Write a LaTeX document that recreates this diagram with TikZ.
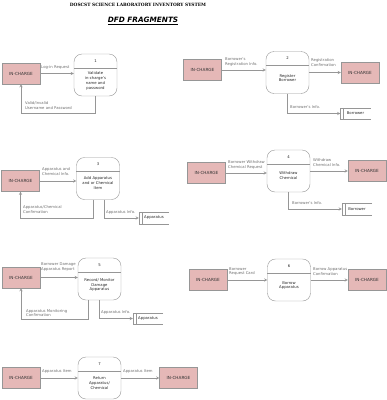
\documentclass[tikz,border=0pt]{standalone}
\usepackage{fontspec}
\setmainfont{DejaVu Sans}
\newfontfamily\titlefont{DejaVu Serif}
\usepackage{tikz,xcolor}
\usetikzlibrary{calc}
\definecolor{entitypink}{RGB}{229,184,183}
\definecolor{linegray}{RGB}{150,150,150}
\definecolor{labelgray}{RGB}{110,110,110}
\tikzset{
  % external entity box
  entity/.style={draw=linegray, fill=entitypink, minimum width=38pt, minimum height=21pt,
    inner sep=0pt, text=black!80, font=\fontsize{4.2}{5}\selectfont},
  % process bubble
  process/.style={draw=linegray, rounded corners=8pt, minimum width=43pt, minimum height=42pt, inner sep=0pt},
  ptext/.style={align=center, inner sep=0pt, text=black!85, font=\fontsize{3.8}{4.8}\selectfont},
  % text beside a flow
  flowlabel/.style={anchor=west, align=left, inner sep=0pt, text=labelgray, font=\fontsize{3.8}{4.6}\selectfont},
  % data store
  datastore/.style={minimum width=30pt, minimum height=11pt, inner sep=0pt, text=black!85, font=\fontsize{3.8}{4.6}\selectfont},
  flow/.style={draw=linegray, line width=0.4pt, ->, >=stealth},
}
\begin{document}
\begin{tikzpicture}[x=1pt,y=-1pt]
\useasboundingbox (0,0) rectangle (387,400);
\node[font=\titlefont\bfseries\fontsize{4.4}{5}\selectfont] (title) at (138,5) {DOSCST SCIENCE LABORATORY INVENTORY SYSTEM};
\node[font=\bfseries\itshape\fontsize{7.3}{8}\selectfont] (subtitle) at (143,21) {\underline{DFD FRAGMENTS}};

% fragment 1
\node[entity] (e1) at (21,73.5) {IN-CHARGE};
\node[process] (p1) at (95.5,75) {};
\node[ptext] (t1) at (95.5,81) {Validate\\in-charge's\\name and\\password};
\coordinate (r1) at (0,113);
\draw[flow] (e1.east) -- (e1.east -| p1.west);
\draw[flow] (p1.south) -- (p1.south |- r1) -- (e1.south |- r1) -- (e1.south);
\node[flowlabel] (l1a) at (41,67) {Log-in Request};
\node[flowlabel] (l1b) at (25,105.5) {Valid/Invalid\\Username and Password};

% fragment 2
\node[entity] (e2a) at (202.5,70) {IN-CHARGE};
\node[process] (p2) at (287.5,72.5) {};
\node[ptext] (t2) at (287.5,78) {Register\\Borrower};
\node[entity] (e2b) at (360,72.5) {IN-CHARGE};
\node[datastore] (s2) at (355.5,113.5) {Borrower};
\draw[flow] (e2a.east) -- (e2a.east -| p2.west);
\draw[flow] (p2.east) -- (p2.east -| e2b.west);
\draw[flow] (p2.south) |- (s2.west);
\node[flowlabel] (l2a) at (225,62) {Borrower's\\Registration Info.};
\node[flowlabel] (l2b) at (311,62.5) {Registration\\Confirmation};
\node[flowlabel] (l2c) at (290,107) {Borrower's Info.};

% fragment 3
\node[entity] (e3) at (20.5,181) {IN-CHARGE};
\node[process] (p3) at (98,178.5) {};
\node[ptext] (t3) at (98,183) {Add Apparatus\\and or Chemical\\Item};
\node[datastore] (s3) at (154,218) {Apparatus};
\coordinate (r3) at (0,218);
\draw[flow] (e3.east) -- (e3.east -| p3.west);
\draw[flow] ([xshift=-5pt]p3.south) -- ([xshift=-5pt]p3.south |- r3) -- (e3.south |- r3) -- (e3.south);
\draw[flow] ([xshift=6pt]p3.south) |- (s3.west);
\node[flowlabel] (l3a) at (42,171.5) {Apparatus and\\Chemical Info.};
\node[flowlabel] (l3b) at (23,209.5) {Apparatus/Chemical\\Confirmation};
\node[flowlabel] (l3c) at (106,212) {Apparatus Info.};

% fragment 4
\node[entity] (e4a) at (206.5,173) {IN-CHARGE};
\node[process] (p4) at (288.5,171) {};
\node[ptext] (t4) at (288.5,175.5) {Withdraw\\Chemical};
\node[entity] (e4b) at (367,170.5) {IN-CHARGE};
\node[datastore] (s4) at (357,209) {Borrower};
\draw[flow] (e4a.east) -- (e4a.east -| p4.west);
\draw[flow] (p4.east) -- (p4.east -| e4b.west);
\draw[flow] (p4.south) |- (s4.west);
\node[flowlabel] (l4a) at (228,165) {Borrower Withdraw\\Chemical Request};
\node[flowlabel] (l4b) at (313,162.5) {Withdraw\\Chemical Info.};
\node[flowlabel] (l4c) at (292,203) {Borrower's Info.};

% fragment 5
\node[entity] (e5) at (21,277.5) {IN-CHARGE};
\node[process] (p5) at (99.5,279) {};
\node[ptext] (t5) at (99.5,285) {Record/ Monitor\\Damage\\Apparatus};
\node[datastore] (s5) at (148,318.5) {Apparatus};
\coordinate (r5) at (0,319);
\draw[flow] (e5.east) -- (e5.east -| p5.west);
\draw[flow] ([xshift=-11.5pt]p5.south) -- ([xshift=-11.5pt]p5.south |- r5) -- (e5.south |- r5) -- (e5.south);
\draw[flow] (p5.south) |- (s5.west);
\node[flowlabel] (l5a) at (41,267) {Borrower Damage\\Apparatus Report};
\node[flowlabel] (l5b) at (26,313) {Apparatus Monitoring\\Confirmation};
\node[flowlabel] (l5c) at (101,312) {Apparatus Info.};

% fragment 6
\node[entity] (e6a) at (208,280) {IN-CHARGE};
\node[process] (p6) at (289,280) {};
\node[ptext] (t6) at (289,285.5) {Borrow\\Apparatus};
\node[entity] (e6b) at (367,280) {IN-CHARGE};
\draw[flow] (e6a.east) -- (e6a.east -| p6.west);
\draw[flow] (p6.east) -- (p6.east -| e6b.west);
\node[flowlabel] (l6a) at (229,271.5) {Borrower\\Request Card};
\node[flowlabel] (l6b) at (313,271.5) {Borrow Apparatus\\Confirmation};

% fragment 7
\node[entity] (e7a) at (21,378) {IN-CHARGE};
\node[process] (p7) at (99.5,378) {};
\node[ptext] (t7) at (99.5,383) {Return\\Apparatus/\\Chemical};
\node[entity] (e7b) at (178.5,378) {IN-CHARGE};
\draw[flow] (e7a.east) -- (e7a.east -| p7.west);
\draw[flow] (p7.east) -- (p7.east -| e7b.west);
\node[flowlabel] (l7a) at (42,372) {Apparatus Item};
\node[flowlabel] (l7b) at (123,372) {Apparatus Item};

% process numbers and dividers
\foreach \p/\n in {p1/1,p2/2,p3/3,p4/4,p5/5,p6/6,p7/7}{
  \draw[linegray] ([yshift=-14pt]\p.north west) -- ([yshift=-14pt]\p.north east);
  \node[ptext] (\p-num) at ([yshift=-7pt]\p.north) {\n};
}
% open-ended stores
\foreach \s in {s2,s3,s4,s5}{
  \draw[linegray] (\s.north east) -- (\s.north west) -- (\s.south west) -- (\s.south east)
    ([xshift=3pt]\s.north west) -- ([xshift=3pt]\s.south west);
}
\end{tikzpicture}
\end{document}
